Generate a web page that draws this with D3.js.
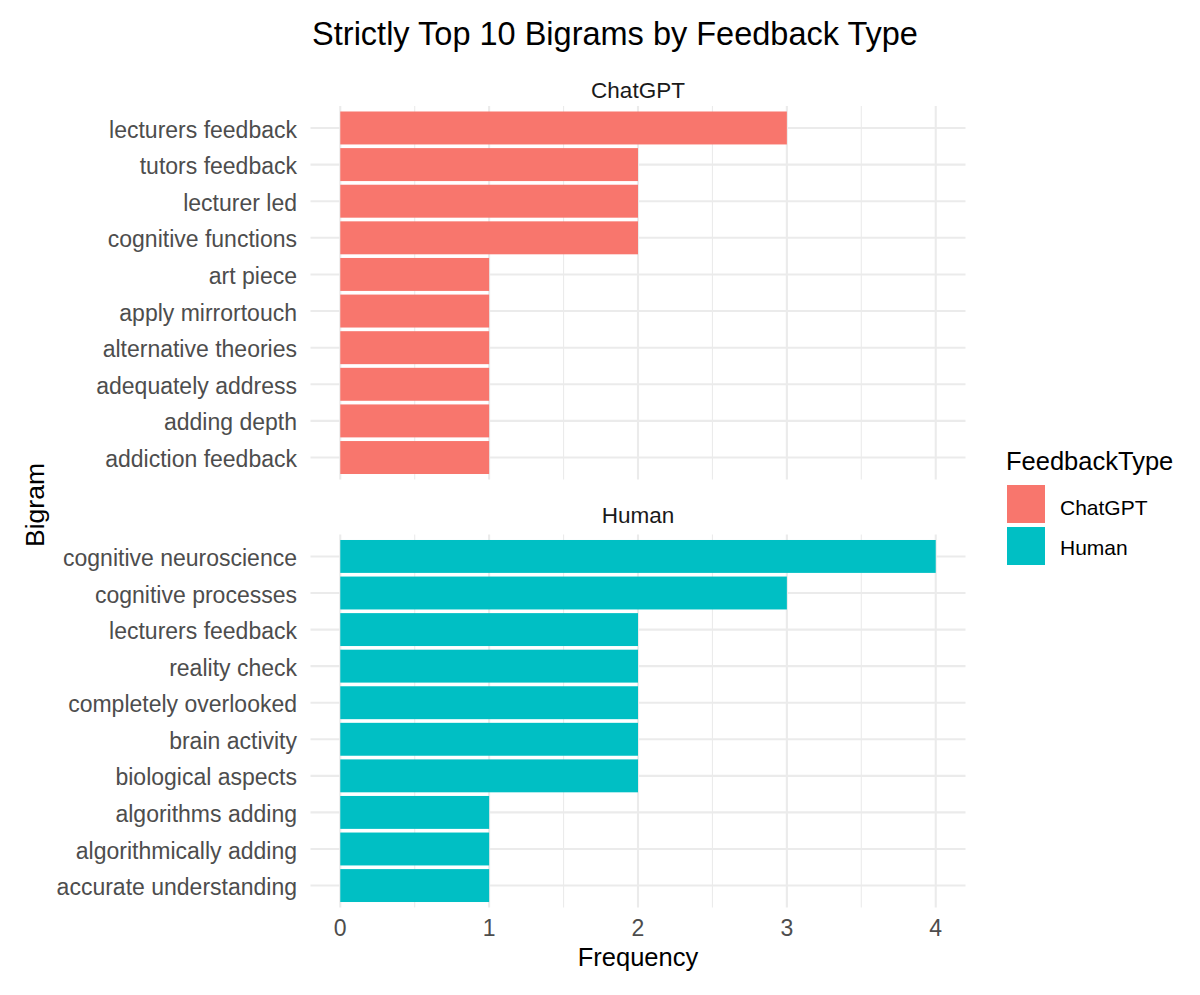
<!DOCTYPE html>
<html><head><meta charset="utf-8">
<script src="https://cdn.jsdelivr.net/npm/d3@7/dist/d3.min.js"></script>
<style>body{margin:0;background:#fff}svg{display:block}text{font-family:"Liberation Sans",Arial,sans-serif}</style>
</head><body>
<svg id="c" width="1200" height="995"></svg>
<script>
const chatgptBigrams = ["lecturers feedback","tutors feedback","lecturer led","cognitive functions","art piece","apply mirrortouch","alternative theories","adequately address","adding depth","addiction feedback"];
const chatgptValues = [3,2,2,2,1,1,1,1,1,1];
const humanBigrams = ["cognitive neuroscience","cognitive processes","lecturers feedback","reality check","completely overlooked","brain activity","biological aspects","algorithms adding","algorithmically adding","accurate understanding"];
const humanValues = [4,3,2,2,2,2,2,1,1,1];
const feedbackTypes = ["ChatGPT","Human"];
const colors = ["#F8766D","#00BFC4"];
const xTicks = [0,1,2,3,4];
const xMinor = [0.5,1.5,2.5,3.5];

const svg = d3.select("#c");
const left = 310.5, right = 965.5;
const x = d3.scaleLinear().domain([-0.2,4.2]).range([left,right]);
const panels = [
  {name:"ChatGPT", cats:chatgptBigrams, vals:chatgptValues, top:106, bottom:479.5, color:colors[0], stripY:90},
  {name:"Human", cats:humanBigrams, vals:humanValues, top:534.5, bottom:907.5, color:colors[1], stripY:515}
];
const grid = "#EBEBEB";
panels.forEach(p=>{
  const y = d3.scaleLinear().domain([-0.6, p.cats.length-0.4]).range([p.top,p.bottom]);
  const g = svg.append("g");
  g.selectAll(".mn").data(xMinor).enter().append("line")
    .attr("x1",d=>x(d)).attr("x2",d=>x(d)).attr("y1",p.top).attr("y2",p.bottom)
    .attr("stroke",grid).attr("stroke-width",1.1);
  g.selectAll(".mj").data(xTicks).enter().append("line")
    .attr("x1",d=>x(d)).attr("x2",d=>x(d)).attr("y1",p.top).attr("y2",p.bottom)
    .attr("stroke",grid).attr("stroke-width",2.1);
  g.selectAll(".hy").data(p.cats).enter().append("line")
    .attr("x1",left).attr("x2",right).attr("y1",(d,i)=>y(i)).attr("y2",(d,i)=>y(i))
    .attr("stroke",grid).attr("stroke-width",2.1);
  const u = y(1)-y(0);
  g.selectAll("rect").data(p.vals).enter().append("rect")
    .attr("x",x(0)).attr("width",d=>x(d)-x(0))
    .attr("y",(d,i)=>y(i)-0.45*u).attr("height",0.9*u)
    .attr("fill",p.color);
  g.selectAll(".yl").data(p.cats).enter().append("text")
    .attr("x",297).attr("y",(d,i)=>y(i)+1.5).attr("dy","0.35em")
    .attr("text-anchor","end").attr("font-size",23).attr("fill","#4D4D4D").text(d=>d);
  svg.append("text").attr("x",(left+right)/2).attr("y",p.stripY).attr("dy","0.35em")
    .attr("text-anchor","middle").attr("font-size",22.5).attr("fill","#1A1A1A").text(p.name);
});
svg.selectAll(".xt").data(xTicks).enter().append("text")
  .attr("x",d=>x(d)).attr("y",928).attr("dy","0.35em").attr("text-anchor","middle")
  .attr("font-size",23).attr("fill","#4D4D4D").text(d=>d);
svg.append("text").attr("x",(left+right)/2).attr("y",966).attr("text-anchor","middle")
  .attr("font-size",25.5).attr("fill","#000").text("Frequency");
svg.append("text").attr("transform","translate(44,505) rotate(-90)").attr("text-anchor","middle")
  .attr("font-size",26.5).attr("fill","#000").text("Bigram");
svg.append("text").attr("x",615).attr("y",45).attr("text-anchor","middle")
  .attr("font-size",32.5).attr("fill","#000").text("Strictly Top 10 Bigrams by Feedback Type");
svg.append("text").attr("x",1006).attr("y",470)
  .attr("font-size",25.5).attr("fill","#000").text("FeedbackType");
feedbackTypes.forEach((t,i)=>{
  svg.append("rect").attr("x",1007).attr("y",485+i*42).attr("width",38).attr("height",38).attr("fill",colors[i]);
  svg.append("text").attr("x",1060).attr("y",515+i*40)
    .attr("font-size",21).attr("fill","#000").text(t);
});
</script>
</body></html>
